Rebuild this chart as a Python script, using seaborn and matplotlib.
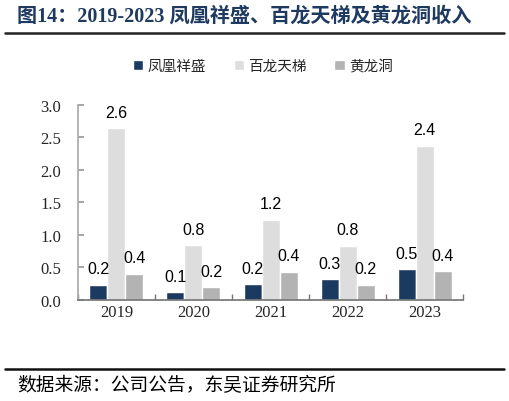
import pandas as pd
import numpy as np
import matplotlib
matplotlib.use("Agg")
import matplotlib.pyplot as plt
from matplotlib.lines import Line2D
import seaborn as sns

# data (revenue, in 亿元)
years = ["2019", "2020", "2021", "2022", "2023"]
series = ["凤凰祥盛", "百龙天梯", "黄龙洞"]
fhxs = [0.23, 0.12, 0.24, 0.32, 0.47]
bltt = [2.64, 0.84, 1.23, 0.83, 2.37]
hld = [0.40, 0.19, 0.43, 0.23, 0.44]
colors = ["#1B3A5F", "#DDDDDD", "#B3B3B3"]

sns.set_theme(style="white")
plt.rcParams['font.family'] = ['Noto Sans CJK SC', 'DejaVu Sans']

df = pd.DataFrame({
    "year": years * 3,
    "series": [series[0]] * 5 + [series[1]] * 5 + [series[2]] * 5,
    "value": fhxs + bltt + hld,
})

fig = plt.figure(figsize=(5.09, 4.02), dpi=100)
ax = fig.add_axes([0.153, 0.252, 0.757, 0.485])

sns.barplot(data=df, x="year", y="value", hue="series", palette=colors,
            width=0.7, gap=0, saturation=1, ax=ax, legend=True)

# value labels
for cont in ax.containers:
    ax.bar_label(cont, fmt="%.1f", padding=6, fontsize=11.5,
                 family=['Liberation Sans', 'DejaVu Sans'], color="black")

ax.set_ylim(0, 3.0)
ax.set_xlim(-0.5, 4.5)
ax.set_yticks(np.arange(0, 3.01, 0.5))
ax.set_yticklabels([f"{v:.1f}" for v in np.arange(0, 3.01, 0.5)],
                   family="Liberation Serif", fontsize=12)
ax.set_xticks(range(5))
ax.set_xticklabels(years, family="Liberation Serif", fontsize=12)
ax.set_xticks(np.arange(-0.5, 5, 1), minor=True)
ax.tick_params(axis="x", which="major", length=0, pad=3)
ax.tick_params(axis="x", which="minor", direction="in", length=4, color="#777777", bottom=True)
ax.tick_params(axis="y", direction="in", length=4, color="#999999", left=True, pad=12)
ax.set_xlabel("")
ax.set_ylabel("")
for s in ["top", "right"]:
    ax.spines[s].set_visible(False)
ax.spines["left"].set_color("#AAAAAA")
ax.spines["bottom"].set_color("#777777")
ax.grid(False)

handles, labels = ax.get_legend_handles_labels()
ax.legend(handles, labels, loc="center", bbox_to_anchor=(0.48, 1.2), ncol=3,
          frameon=False, fontsize=10.5, handlelength=0.7, handleheight=0.7,
          handletextpad=0.3, columnspacing=1.9)

# title, rules and source
fig.text(0.033, 0.958, "图14：2019-2023 凤凰祥盛、百龙天梯及黄龙洞收入",
         fontsize=14.5, fontweight="bold", color="#1F3A60", va="center",
         family=['Liberation Serif', 'Noto Sans CJK SC', 'DejaVu Sans'])
fig.add_artist(Line2D([0.01, 0.99], [0.915, 0.915], color="#222222", lw=1.8))
fig.add_artist(Line2D([0.01, 0.99], [0.08, 0.08], color="#111111", lw=1.8))
fig.text(0.033, 0.04, "数据来源：公司公告，东吴证券研究所", fontsize=13.5,
         color="black", va="center")

fig.savefig("out.png", dpi=100)
